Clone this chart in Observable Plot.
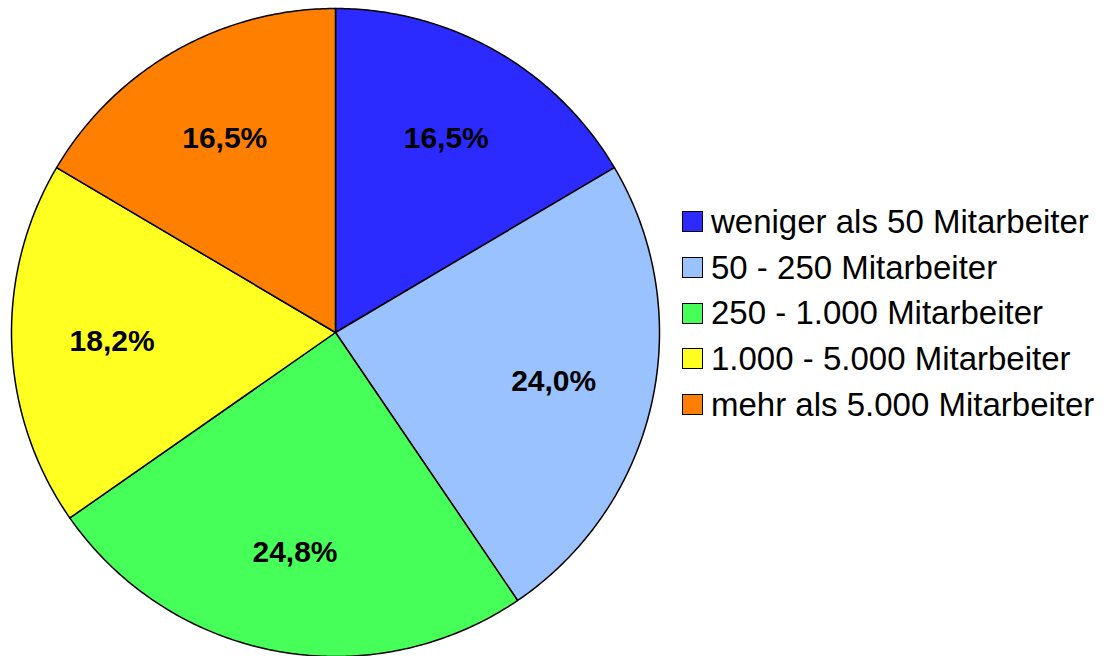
<!DOCTYPE html>
<html>
<head>
<meta charset="utf-8">
<script src="https://cdn.jsdelivr.net/npm/d3@7"></script>
<script src="https://cdn.jsdelivr.net/npm/@observablehq/plot@0.6"></script>
<style>
  body { margin: 0; background: #fff; }
  #wrap { position: relative; width: 1109px; height: 656px; font-family: "Liberation Sans", Arial, sans-serif; }
  #legend { position: absolute; left: 682px; top: 199px; }
  .item { display: flex; align-items: center; height: 45.7px; font-size: 33px; color: #000; white-space: nowrap; }
  .sw { width: 19px; height: 19px; border: 1px solid #000; margin-right: 8px; flex: none; }
</style>
</head>
<body>
<div id="wrap"></div>
<script>
const categories = [
  "weniger als 50 Mitarbeiter",
  "50 - 250 Mitarbeiter",
  "250 - 1.000 Mitarbeiter",
  "1.000 - 5.000 Mitarbeiter",
  "mehr als 5.000 Mitarbeiter"
];
const values = [16.5, 24.0, 24.8, 18.2, 16.5];
const labels = ["16,5%", "24,0%", "24,8%", "18,2%", "16,5%"];
const colors = ["#2B2BFF", "#99C2FF", "#47FF59", "#FFFF22", "#FF8000"];

const total = d3.sum(values);
let acc = 0;
const slices = values.map((v, i) => {
  const a0 = acc / total * 2 * Math.PI;
  acc += v;
  const a1 = acc / total * 2 * Math.PI;
  const n = Math.max(2, Math.ceil((a1 - a0) / 0.01));
  const pts = [[0, 0]];
  for (let k = 0; k <= n; k++) {
    const a = a0 + (a1 - a0) * k / n;
    pts.push([Math.sin(a), Math.cos(a)]);
  }
  pts.push([0, 0]);
  const am = (a0 + a1) / 2;
  return {
    category: categories[i], label: labels[i], color: colors[i],
    geometry: {type: "Polygon", coordinates: [pts]},
    lx: 0.69 * Math.sin(am), ly: 0.69 * Math.cos(am)
  };
});

const chart = Plot.plot({
  width: 1109,
  height: 656,
  marginLeft: 10,
  marginRight: 449,
  marginTop: 8,
  marginBottom: 0,
  projection: {type: "reflect-y", domain: {type: "MultiPoint", coordinates: [[-1, -1], [1, 1]]}},
  style: {background: "#fff", fontFamily: "'Liberation Sans', Arial, sans-serif"},
  marks: [
    Plot.geo(slices, {geometry: d => d.geometry, fill: d => d.color, stroke: "#000", strokeWidth: 1.5}),
    Plot.text(slices, {x: "lx", y: "ly", text: "label", fontSize: 30, fontWeight: "bold", fill: "#000"})
  ]
});
const wrap = document.getElementById("wrap");
wrap.appendChild(chart);

const legend = document.createElement("div");
legend.id = "legend";
categories.forEach((c, i) => {
  const item = document.createElement("div");
  item.className = "item";
  const sw = document.createElement("span");
  sw.className = "sw";
  sw.style.background = colors[i];
  const t = document.createElement("span");
  t.textContent = c;
  item.appendChild(sw);
  item.appendChild(t);
  legend.appendChild(item);
});
wrap.appendChild(legend);
</script>
</body>
</html>
